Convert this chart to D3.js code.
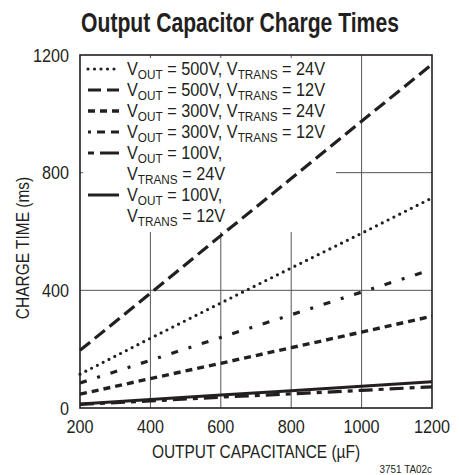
<!DOCTYPE html>
<html>
<head>
<meta charset="utf-8">
<script src="https://cdn.jsdelivr.net/npm/d3@7/dist/d3.min.js"></script>
<style>
  html, body { margin: 0; padding: 0; background: #fff; }
  text { font-family: "Liberation Sans", Arial, sans-serif; fill: #231f20; }
</style>
</head>
<body>
<svg id="chart" width="459" height="475"></svg>
<script>
// Output capacitance (µF) sample points
const capacitance = [200, 400, 600, 800, 1000, 1200];

// Charge time (ms) for each output / transformer voltage combination
const v500t24 = [115, 237, 357, 476, 594, 714];
const v500t12 = [196, 390, 586, 780, 975, 1168];
const v300t24 = [47, 100, 152, 205, 258, 312];
const v300t12 = [85, 162, 240, 317, 394, 471];
const v100t24 = [12, 24, 37, 48, 60, 72];
const v100t12 = [14, 29, 44, 59, 74, 89];

const xTicks = [200, 400, 600, 800, 1000, 1200];
const yTicks = [0, 400, 800, 1200];

// Legend labels
const legendOut = ["500V", "500V", "300V", "300V", "100V", "100V"];
const legendTrans = ["24V", "12V", "24V", "12V", "24V", "12V"];

const series = [
  { values: v500t24, dash: "0 6.5", swatch: "0 6.5", cap: "round", width: 3.2 },
  { values: v500t12, dash: "13 6", swatch: "13 6", cap: "butt", width: 3.2 },
  { values: v300t24, dash: "7 5", swatch: "7 5", cap: "butt", width: 3.4 },
  { values: v300t12, dash: "7 11 3 11", swatch: "3 6 8 6 8 6 3", cap: "butt", width: 3.2 },
  { values: v100t24, dash: "14 6 5 6", swatch: "6 6 20", cap: "butt", width: 3.2 },
  { values: v100t12, dash: null, swatch: null, cap: "butt", width: 3 }
];

const svg = d3.select("#chart");
const M = { left: 80, right: 432, top: 55, bottom: 408 };

const x = d3.scaleLinear().domain([200, 1200]).range([M.left, M.right]);
const y = d3.scaleLinear().domain([0, 1200]).range([M.bottom, M.top]);

// Condensed-looking text: a regular face squeezed horizontally
const SQ = 0.87;
function label(parent, px, py, str, size, anchor, sx) {
  const t = parent.append("text")
    .attr("transform", `translate(${px},${py}) scale(${sx || SQ},1)`)
    .attr("text-anchor", anchor || "start")
    .style("font-size", size + "px");
  if (str !== null) t.text(str);
  return t;
}

// Title, squeezed to its set width
const title = label(svg, 240, 32, "Output Capacitor Charge Times", 27.5, "middle", 1)
  .style("font-weight", "bold");
const natural = title.node().getComputedTextLength();
title.attr("transform", `translate(240,32) scale(${318 / natural},1)`);

// Grid
const grid = svg.append("g").attr("stroke", "#555").attr("stroke-width", 1);
grid.selectAll("line.v").data(xTicks.slice(1, -1)).enter().append("line")
  .attr("x1", d => x(d)).attr("x2", d => x(d))
  .attr("y1", M.top).attr("y2", M.bottom);
grid.selectAll("line.h").data(yTicks.slice(1, -1)).enter().append("line")
  .attr("y1", d => y(d)).attr("y2", d => y(d))
  .attr("x1", M.left).attr("x2", M.right);

// Legend backdrop hides the grid behind the key
svg.append("rect")
  .attr("x", 83).attr("y", 58).attr("width", 253).attr("height", 174)
  .attr("fill", "#fff");

// Data lines
const line = d3.line().x((d, i) => x(capacitance[i])).y(d => y(d));
svg.append("g").selectAll("path").data(series).enter().append("path")
  .attr("d", d => line(d.values))
  .attr("fill", "none")
  .attr("stroke", "#231f20")
  .attr("stroke-width", d => d.width)
  .attr("stroke-linecap", d => d.cap)
  .attr("stroke-dasharray", d => d.dash);

// Frame
svg.append("rect")
  .attr("x", M.left).attr("y", M.top)
  .attr("width", M.right - M.left).attr("height", M.bottom - M.top)
  .attr("fill", "none").attr("stroke", "#231f20").attr("stroke-width", 1.6);

// Tick labels
const fmt = d3.format("d");
const gx = svg.append("g");
xTicks.forEach(v => label(gx, x(v), 433, fmt(v), 18, "middle", 0.9));
const gy = svg.append("g");
yTicks.forEach(v => label(gy, 69, y(v) + 6.5, fmt(v), 18, "end", 0.9));

// Axis titles
label(svg, 256, 458, "OUTPUT CAPACITANCE (µF)", 18, "middle", 0.86);

svg.append("text")
  .attr("transform", "translate(29,248) rotate(-90) scale(0.86,1)")
  .attr("text-anchor", "middle")
  .style("font-size", "18px")
  .text("CHARGE TIME (ms)");

label(svg, 432, 473, "3751 TA02c", 11, "end", 0.9);

// Legend
const rowH = 21;
const baseY = 75;
const lg = svg.append("g");
let row = 0;
legendOut.forEach((vo, i) => {
  const twoLine = i >= 4;
  const by = baseY + row * rowH;
  const s = series[i];
  lg.append("line")
    .attr("x1", 88).attr("x2", 119)
    .attr("y1", by - 6).attr("y2", by - 6)
    .attr("stroke", "#231f20")
    .attr("stroke-width", s.width)
    .attr("stroke-linecap", s.cap)
    .attr("stroke-dasharray", s.swatch);

  const t = label(lg, 127, by, null, 18, "start", 0.905);
  t.append("tspan").text("V");
  t.append("tspan").attr("dy", 4).style("font-size", "13px").text("OUT");
  t.append("tspan").attr("dy", -4).text(" = " + vo + ",");
  let t2 = t;
  if (twoLine) {
    t2 = label(lg, 127, by + rowH, null, 18, "start", 0.905);
  } else {
    t2.append("tspan").text(" ");
  }
  t2.append("tspan").text("V");
  t2.append("tspan").attr("dy", 4).style("font-size", "13px").text("TRANS");
  t2.append("tspan").attr("dy", -4).text(" = " + legendTrans[i]);
  row += twoLine ? 2 : 1;
});
</script>
</body>
</html>
